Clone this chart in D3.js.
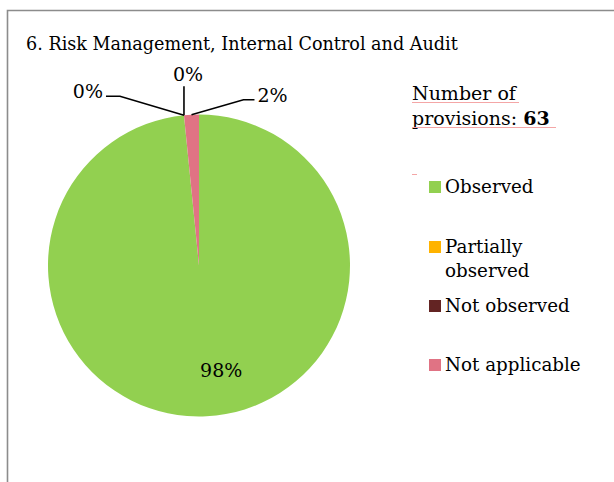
<!DOCTYPE html>
<html>
<head>
    <script src="https://d3js.org/d3.v7.min.js"></script>
    <style>
        body { margin: 0; background: #fff; }
        text { font-family: "DejaVu Serif", "Liberation Serif", serif; fill: #000; }
    </style>
</head>
<body>
    <svg width="614" height="482"></svg>

    <script>
        var title = "6. Risk Management, Internal Control and Audit";
        var categories = ["Observed", "Partially observed", "Not observed", "Not applicable"];
        var provisions = [62, 0, 0, 1];
        var percentLabels = ["98%", "0%", "0%", "2%"];
        var colors = ["#92D050", "#FFB300", "#632423", "#E07384"];
        var totalProvisions = 63;

        var width = 614, height = 482;
        var cx = 199, cy = 265.5, radius = 151;

        var svg = d3.select("svg");

        // frame of the chart area (only top and left edges visible)
        svg.append("path")
            .attr("d", "M7.5,482 V10.5 H614")
            .attr("fill", "none")
            .attr("stroke", "#8c8c8c")
            .attr("stroke-width", 1.6);

        svg.append("text")
            .attr("x", 26)
            .attr("y", 50)
            .style("font-size", "17.6px")
            .text(title);

        var pie = d3.pie().sort(null).value(function(d) { return d; });
        var arcs = pie(provisions);

        var arc = d3.arc().innerRadius(0).outerRadius(radius);

        var g = svg.append("g")
            .attr("transform", "translate(" + cx + "," + cy + ")");

        g.selectAll("path.slice")
            .data(arcs)
            .enter().append("path")
            .attr("class", "slice")
            .attr("d", arc)
            .attr("fill", function(d, i) { return colors[i]; });

        function edgePoint(d) {
            var a = (d.startAngle + d.endAngle) / 2;
            return [radius * Math.sin(a), -radius * Math.cos(a)];
        }

        // leader lines for the small slices: offsets from the edge point
        var leaders = {
            1: { pts: [[-64, -19], [-78, -19]], tx: -81, ty: -17, anchor: "end" },
            2: { pts: [[0, -29]], tx: 4, ty: -34, anchor: "middle" },
            3: { pts: [[52, -15], [63, -15]], tx: 66, ty: -13, anchor: "start" }
        };

        arcs.forEach(function(d, i) {
            var p = edgePoint(d);
            if (leaders[i]) {
                var L = leaders[i];
                var pts = [p].concat(L.pts.map(function(o) { return [p[0] + o[0], p[1] + o[1]]; }));
                g.append("polyline")
                    .attr("points", pts.map(function(q) { return q.join(","); }).join(" "))
                    .attr("fill", "none")
                    .attr("stroke", "#000")
                    .attr("stroke-width", 1.6);
                g.append("text")
                    .attr("x", p[0] + L.tx)
                    .attr("y", p[1] + L.ty)
                    .attr("text-anchor", L.anchor)
                    .style("font-size", "19px")
                    .text(percentLabels[i]);
            } else {
                var c = d3.arc().innerRadius(0).outerRadius(radius * 1.38).centroid(d);
                g.append("text")
                    .attr("x", c[0] + 17)
                    .attr("y", c[1] + 7)
                    .attr("text-anchor", "middle")
                    .style("font-size", "19px")
                    .text(percentLabels[i]);
            }
        });

        // provisions note
        var note = svg.append("g");
        note.append("text")
            .attr("x", 412).attr("y", 100)
            .style("font-size", "19px")
            .text("Number of");
        var t2 = note.append("text")
            .attr("x", 412).attr("y", 125)
            .style("font-size", "19px");
        t2.append("tspan").text("provisions: ");
        t2.append("tspan").style("font-weight", "bold").text(totalProvisions);
        note.append("line").attr("x1", 412).attr("x2", 519).attr("y1", 102.5).attr("y2", 102.5)
            .attr("stroke", "#f4a6a6").attr("stroke-width", 1);
        note.append("line").attr("x1", 412).attr("x2", 556).attr("y1", 127.5).attr("y2", 127.5)
            .attr("stroke", "#f4a6a6").attr("stroke-width", 1);
        note.append("line").attr("x1", 412).attr("x2", 417).attr("y1", 174.5).attr("y2", 174.5)
            .attr("stroke", "#f4a6a6").attr("stroke-width", 1);

        // legend
        var legend = svg.append("g");
        var item = legend.selectAll("g.item")
            .data(categories)
            .enter().append("g")
            .attr("class", "item");
        var squareY = [181, 241, 300, 359];
        item.append("rect")
            .attr("x", 429)
            .attr("y", function(d, i) { return squareY[i]; })
            .attr("width", 12).attr("height", 12)
            .attr("fill", function(d, i) { return colors[i]; });
        item.each(function(d, i) {
            var words = d === "Partially observed" ? ["Partially", "observed"] : [d];
            var t = d3.select(this).append("text")
                .attr("x", 445)
                .attr("y", squareY[i] + 12)
                .style("font-size", "18.3px");
            words.forEach(function(w, k) {
                t.append("tspan").attr("x", 445).attr("dy", k ? 24 : 0).text(w);
            });
        });
    </script>
</body>
</html>
